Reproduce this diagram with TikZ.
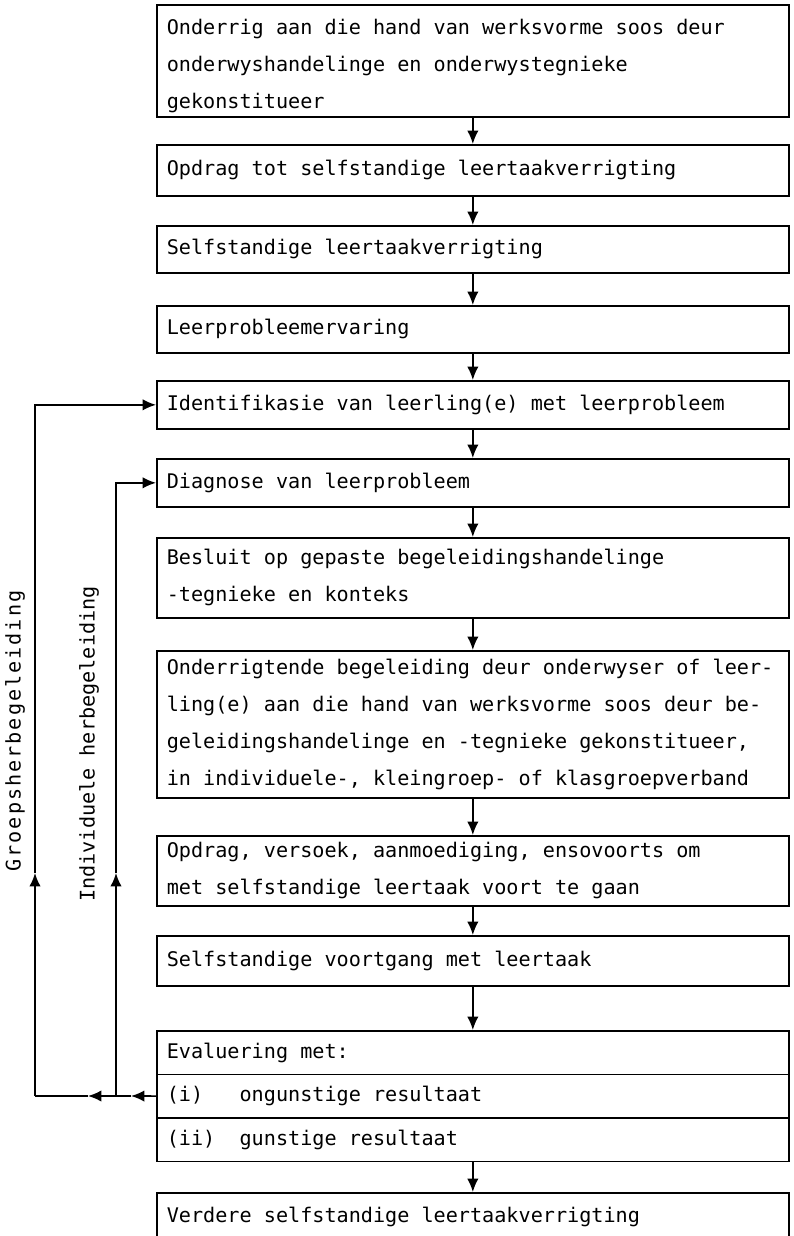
\documentclass[tikz,border=0pt]{standalone}
\usepackage{fontspec}
\setmonofont{DejaVu Sans Mono}
\usetikzlibrary{arrows.meta}

\newcommand{\boxfont}{\ttfamily\fontsize{17.2}{31.5}\selectfont}

\tikzset{
  stagebox/.style={draw, line width=1.4pt, anchor=north west, align=left,
    minimum width=18.96cm, text width=18.36cm, inner xsep=0.3cm,
    font=\boxfont, execute at begin node={\spaceskip=0.602em\relax}},
  flow/.style={line width=1.4pt, -{Latex[length=4mm,width=3.4mm]}},
  link/.style={line width=1.4pt},
  looplabel/.style={rotate=90, font=\boxfont}
}

\begin{document}
\begin{tikzpicture}[x=0.03cm,y=-0.03cm]

  \useasboundingbox (0,0) rectangle (794,1236);

  % main sequence of stages
  \node[stagebox, minimum height=3.36cm] (teach) at (156,4)
    {\strut Onderrig aan die hand van werksvorme soos deur\\
     onderwyshandelinge en onderwystegnieke\\
     gekonstitueer};
  \node[stagebox, minimum height=1.53cm] (task) at (156,144)
    {Opdrag tot selfstandige leertaakverrigting};
  \node[stagebox, minimum height=1.41cm] (self) at (156,225)
    {Selfstandige leertaakverrigting};
  \node[stagebox, minimum height=1.41cm] (exper) at (156,305)
    {Leerprobleemervaring};
  \node[stagebox, minimum height=1.44cm] (ident) at (156,380)
    {Identifikasie van leerling(e) met leerprobleem};
  \node[stagebox, minimum height=1.44cm] (diag) at (156,458)
    {Diagnose van leerprobleem};
  \node[stagebox, minimum height=2.4cm] (decide) at (156,537)
    {Besluit op gepaste begeleidingshandelinge\\
     -tegnieke en konteks};
  \node[stagebox, minimum height=4.41cm] (guide) at (156,650)
    {Onderrigtende begeleiding deur onderwyser of leer-\\
     ling(e) aan die hand van werksvorme soos deur be-\\
     geleidingshandelinge en -tegnieke gekonstitueer,\\
     in individuele-, kleingroep- of klasgroepverband};
  \node[stagebox, minimum height=2.1cm] (urge) at (156,835)
    {Opdrag, versoek, aanmoediging, ensovoorts om\\
     met selfstandige leertaak voort te gaan};
  \node[stagebox, minimum height=1.5cm] (cont) at (156,935)
    {Selfstandige voortgang met leertaak};

  % evaluation with its two outcomes
  \node[stagebox, minimum height=1.305cm] (eval) at (156,1030)
    {Evaluering met:};
  \node[stagebox, minimum height=1.305cm] (evalbad) at (156,1073.5)
    {(i)\ \ \ ongunstige resultaat};
  \node[stagebox, minimum height=1.305cm] (evalgood) at (156,1117)
    {(ii)\ \ gunstige resultaat};
  \node[stagebox, minimum height=1.44cm] (further) at (156,1192)
    {Verdere selfstandige leertaakverrigting};

  \draw[flow] (teach) -- (task);
  \draw[flow] (task) -- (self);
  \draw[flow] (self) -- (exper);
  \draw[flow] (exper) -- (ident);
  \draw[flow] (ident) -- (diag);
  \draw[flow] (diag) -- (decide);
  \draw[flow] (decide) -- (guide);
  \draw[flow] (guide) -- (urge);
  \draw[flow] (urge) -- (cont);
  \draw[flow] (cont) -- (eval);
  \draw[flow] (evalgood) -- (further);

  % feedback loops
  \coordinate (headA) at (131,1096);
  \coordinate (innerfoot) at (116,1096);
  \coordinate (headB) at (88,1096);
  \coordinate (outerfoot) at (35,1096);
  \coordinate (innerup) at (116,873);
  \coordinate (outerup) at (35,873);

  \draw[flow] (evalbad.west) -- (headA);
  \draw[link] (headA) -- (innerfoot);
  \draw[flow] (innerfoot) -- (headB);
  \draw[link] (headB) -- (outerfoot);

  \draw[flow] (innerfoot) -- (innerup);
  \draw[flow] (innerup) |- (diag.west);
  \draw[flow] (outerfoot) -- (outerup);
  \draw[flow] (outerup) |- (ident.west);

  \node[looplabel] (grouplabel) at (15,731)
    {\addfontfeature{LetterSpace=10}Groepsherbegeleiding};
  \node[looplabel] (indivlabel) at (89,744) {Individuele herbegeleiding};

\end{tikzpicture}
\end{document}
